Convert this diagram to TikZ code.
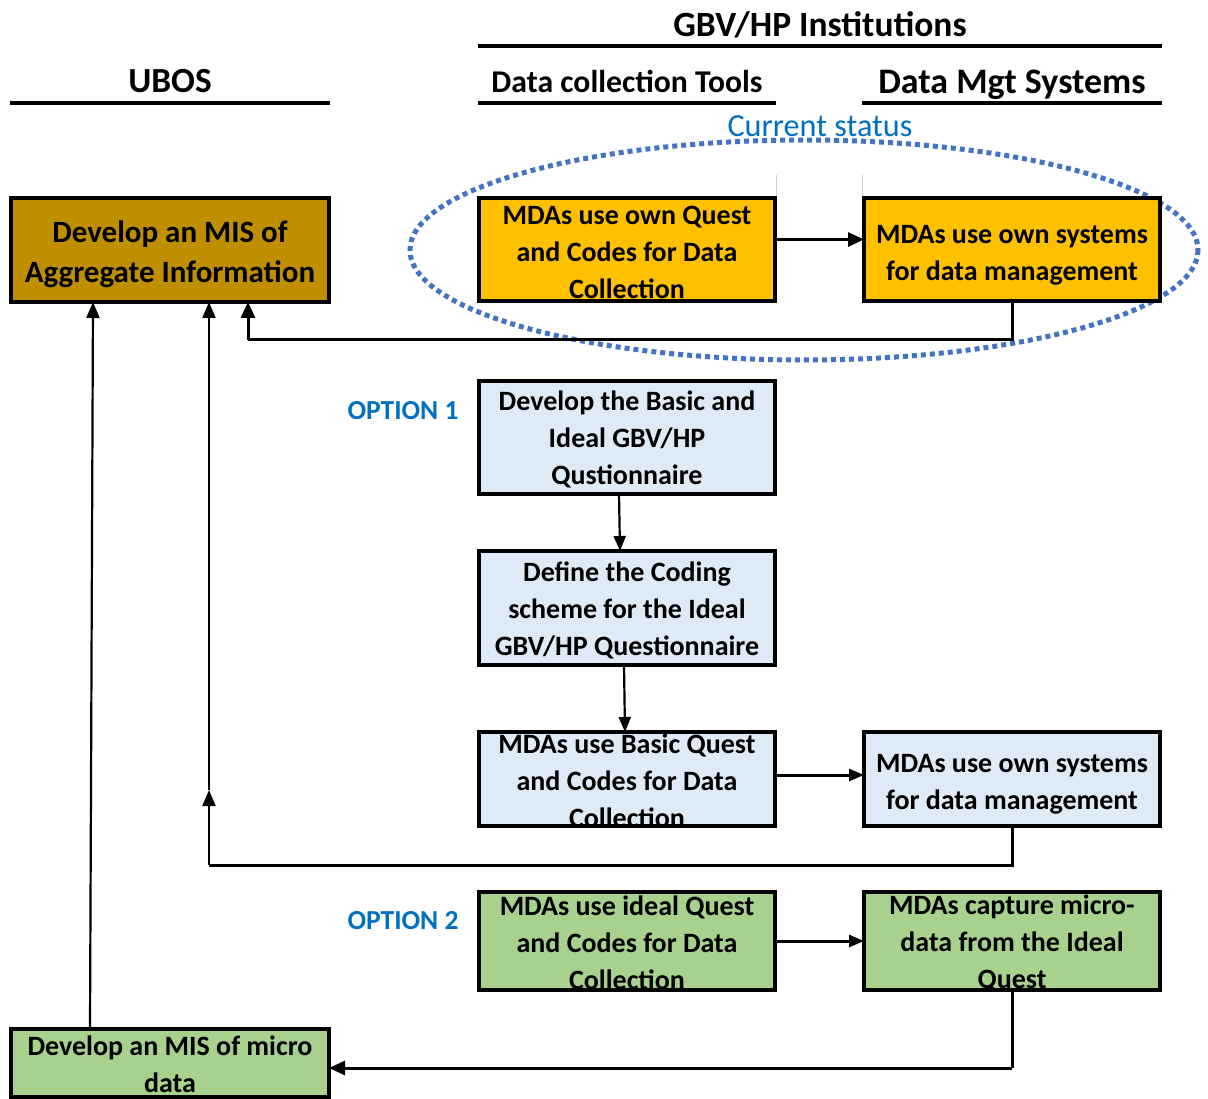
\documentclass[tikz,border=0pt]{standalone}
\usepackage{fontspec}
\setmainfont{Carlito}
\usetikzlibrary{arrows.meta}
\definecolor{misbrown}{HTML}{BF8F00}
\definecolor{owngold}{HTML}{FFC000}
\definecolor{lightblue}{HTML}{DEEBF7}
\definecolor{lightgreen}{HTML}{A9D18E}
\definecolor{optblue}{HTML}{0070C0}
\definecolor{ellblue}{HTML}{4472C4}
\begin{document}
\begin{tikzpicture}[x=1pt,y=-1pt,
  box/.style={minimum width=296pt, inner sep=0pt, outer sep=0pt},
  boxtxt/.style={inner sep=0pt, align=center, font=\fontsize{28}{37}\selectfont\bfseries},
  border/.style={line width=3.5pt},
  hdr/.style={anchor=base, inner sep=0pt, font=\fontsize{35.5}{40}\selectfont\bfseries},
  rule/.style={line width=4pt},
  opt/.style={anchor=base, inner sep=0pt, text=optblue, font=\fontsize{27.5}{33}\selectfont\bfseries},
  conn/.style={line width=3pt},
  arr/.style={line width=3pt, -{Triangle[length=16pt,width=14pt]}},
  thinarr/.style={line width=2.2pt, -{Triangle[length=16pt,width=13pt]}}]
\useasboundingbox (0,0) rectangle (1208,1099);

% headers
\node[hdr] (h1) at (820,37) {GBV/HP Institutions};
\draw[rule] (478,46) -- (1162,46);
\node[hdr, font=\fontsize{31.7}{37}\selectfont\bfseries] (h2) at (627,93) {Data collection Tools};
\draw[rule] (478,103) -- (776,103);
\node[hdr, font=\fontsize{35.9}{40}\selectfont\bfseries] (h3) at (1012,94) {Data Mgt Systems};
\draw[rule] (862,103) -- (1162,103);
\node[hdr, font=\fontsize{35.3}{40}\selectfont\bfseries] (h4) at (170,93) {UBOS};
\draw[rule] (10,103) -- (330,103);
\node[anchor=base, inner sep=0pt, text=optblue, font=\fontsize{32.2}{37}\selectfont] (cs) at (820,137) {Current status};

% faint guide lines
\draw[line width=1pt, black!20] (776,175) -- (776,197);
\draw[line width=1pt, black!20] (862,175) -- (862,197);

% current status ellipse
\draw[ellblue, line width=5pt, dash pattern=on 5pt off 4pt] (804,250) ellipse [x radius=394, y radius=110];

% boxes (fill)
\node[box, fill=misbrown, minimum width=318pt, minimum height=104pt] (mis) at (170,250) {};
\node[box, fill=owngold, minimum height=103pt] (q0) at (627,249.5) {};
\node[box, fill=owngold, minimum height=103pt] (s0) at (1012,249.5) {};
\node[box, fill=lightblue, minimum height=113pt] (b1) at (627,437.5) {};
\node[box, fill=lightblue, minimum height=114pt] (b2) at (627,608) {};
\node[box, fill=lightblue, minimum height=94pt] (b3) at (627,779) {};
\node[box, fill=lightblue, minimum height=94pt] (b4) at (1012,779) {};
\node[box, fill=lightgreen, minimum height=98pt] (c1) at (627,941) {};
\node[box, fill=lightgreen, minimum height=98pt] (c2) at (1012,941) {};
\node[box, fill=lightgreen, minimum width=318pt, minimum height=68pt] (mm) at (170,1063) {};

% box texts
\node[boxtxt, font=\fontsize{31}{40}\selectfont\bfseries] (mist) at ([yshift=-4pt]mis.center) {Develop an MIS of\\Aggregate Information};
\node[boxtxt] (q0t) at ([yshift=-3pt]q0.center) {MDAs use own Quest\\and Codes for Data\\Collection};
\node[boxtxt] (s0t) at ([yshift=-6pt]s0.center) {MDAs use own systems\\for data management};
\node[boxtxt] (b1t) at ([yshift=-2pt]b1.center) {Develop the Basic and\\Ideal GBV/HP\\Qustionnaire};
\node[boxtxt] (b2t) at ([yshift=-2pt]b2.center) {Define the Coding\\scheme for the Ideal\\GBV/HP Questionnaire};
\node[boxtxt] (b3t) at ([yshift=-2pt]b3.center) {MDAs use Basic Quest\\and Codes for Data\\Collection};
\node[boxtxt] (b4t) at ([yshift=-5pt]b4.center) {MDAs use own systems\\for data management};
\node[boxtxt] (c1t) at ([yshift=-2pt]c1.center) {MDAs use ideal Quest\\and Codes for Data\\Collection};
\node[boxtxt] (c2t) at ([yshift=-2pt]c2.center) {MDAs capture micro-\\data from the Ideal\\Quest};
\node[boxtxt] (mmt) at ([yshift=-1.5pt]mm.center) {Develop an MIS of micro\\data};

% box borders
\foreach \n in {mis,q0,s0,b1,b2,b3,b4,c1,c2,mm}
  \draw[border] (\n.north west) rectangle (\n.south east);

\node[opt] (o1) at (403,419) {OPTION 1};
\node[opt] (o2) at (403,929) {OPTION 2};

% connectors
\draw[arr] ([yshift=10pt]q0.east) -- ([yshift=10pt]s0.west);
\coordinate (k1) at (248,340);
\draw[conn] (s0.south) |- (k1);
\draw[arr] (k1) -- (k1 |- mis.south);

\draw[thinarr, -{Triangle[length=15pt,width=12pt]}] ([xshift=-8pt]b1.south) -- ([xshift=-7pt]b2.north);
\draw[thinarr, -{Triangle[length=15pt,width=12pt]}] ([xshift=-3pt]b2.south) -- ([xshift=-2pt]b3.north);
\draw[arr, -{Triangle[length=15pt,width=12pt]}] ([yshift=4pt]b3.east) -- ([yshift=4pt]b4.west);

\coordinate (k2) at (209,865);
\coordinate (k2m) at (209,790);
\draw[conn] (b4.south) |- (k2);
\draw[thinarr] (k2) -- (k2m);
\draw[thinarr] (k2m) -- (k2 |- mis.south);

\draw[arr, -{Triangle[length=15pt,width=12pt]}] (c1.east) -- (c2.west);
\coordinate (k3) at (1012,1068);
\draw[conn] (c2.south) -- (k3);
\draw[arr] (k3) -- (k3 -| mm.east);

\draw[thinarr] ([xshift=-80pt]mm.north) -- ([xshift=-77pt]mis.south);
\end{tikzpicture}
\end{document}
